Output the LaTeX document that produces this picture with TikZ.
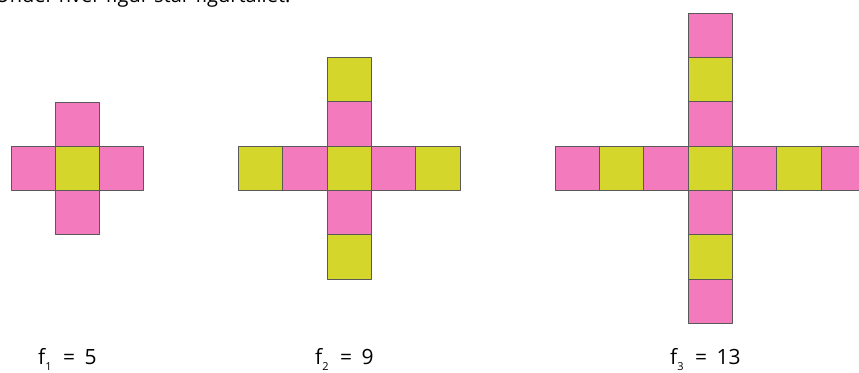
\documentclass[tikz,border=0pt]{standalone}
\usepackage{fontspec}
\setmainfont{Open Sans}
\usetikzlibrary{calc}
\definecolor{boxpink}{RGB}{244,122,190}
\definecolor{boxlime}{RGB}{212,214,44}
\newcommand{\figtal}[2]{f\raisebox{-0.6ex}{\fontsize{11}{12}\selectfont #1}\hspace{0.55em}=\hspace{0.45em}#2}
\begin{document}
\begin{tikzpicture}[x=1pt,y=-1pt,line join=round,
	sq/.style={draw=black!65,line width=0.7pt},
	lab/.style={anchor=base west,inner sep=0pt,font=\fontsize{21}{25}\selectfont}]
	\useasboundingbox (0,0) rectangle (859,372);
	\clip (0,0) rectangle (859,372);
	
	% tekst oeverst (skaaret af)
	\node[anchor=base west,inner sep=0pt,font=\fontsize{20}{24}\selectfont] (title) at (-5,2.5) {Under hver figur står figurtallet.};
	
	% figur 1
	\coordinate (C1) at (77,168);
	\foreach \d/\c in {-1/boxpink,0/boxlime,1/boxpink}
		\filldraw[sq,fill=\c] ($(C1)+(\d*44-22,-22)$) rectangle ++(44,44);
	\foreach \d/\c in {-1/boxpink,1/boxpink}
		\filldraw[sq,fill=\c] ($(C1)+(-22,\d*44-22)$) rectangle ++(44,44);
	
	% figur 2
	\coordinate (C2) at (349,168);
	\foreach \d/\c in {-2/boxlime,-1/boxpink,0/boxlime,1/boxpink,2/boxlime}
		\filldraw[sq,fill=\c] ($(C2)+(\d*44.4-22,-22)$) rectangle ++(44.4,44);
	\foreach \d/\c in {-2/boxlime,-1/boxpink,1/boxpink,2/boxlime}
		\filldraw[sq,fill=\c] ($(C2)+(-22,\d*44.4-22)$) rectangle ++(44.4,44.4);
	
	% figur 3
	\coordinate (C3) at (710,168);
	\foreach \d/\c in {-3/boxpink,-2/boxlime,-1/boxpink,0/boxlime,1/boxpink,2/boxlime,3/boxpink}
		\filldraw[sq,fill=\c] ($(C3)+(\d*44.3-22,-22)$) rectangle ++(44.3,44);
	\foreach \d/\c in {-3/boxpink,-2/boxlime,-1/boxpink,1/boxpink,2/boxlime,3/boxpink}
		\filldraw[sq,fill=\c] ($(C3)+(-22,\d*44.3-22)$) rectangle ++(44.3,44.3);
	
	% figurtal
	\node[lab] (lab1) at (38,364) {\figtal{1}{5}};
	\node[lab] (lab2) at (315,364) {\figtal{2}{9}};
	\node[lab] (lab3) at (670,364) {\figtal{3}{13}};
\end{tikzpicture}
\end{document}
